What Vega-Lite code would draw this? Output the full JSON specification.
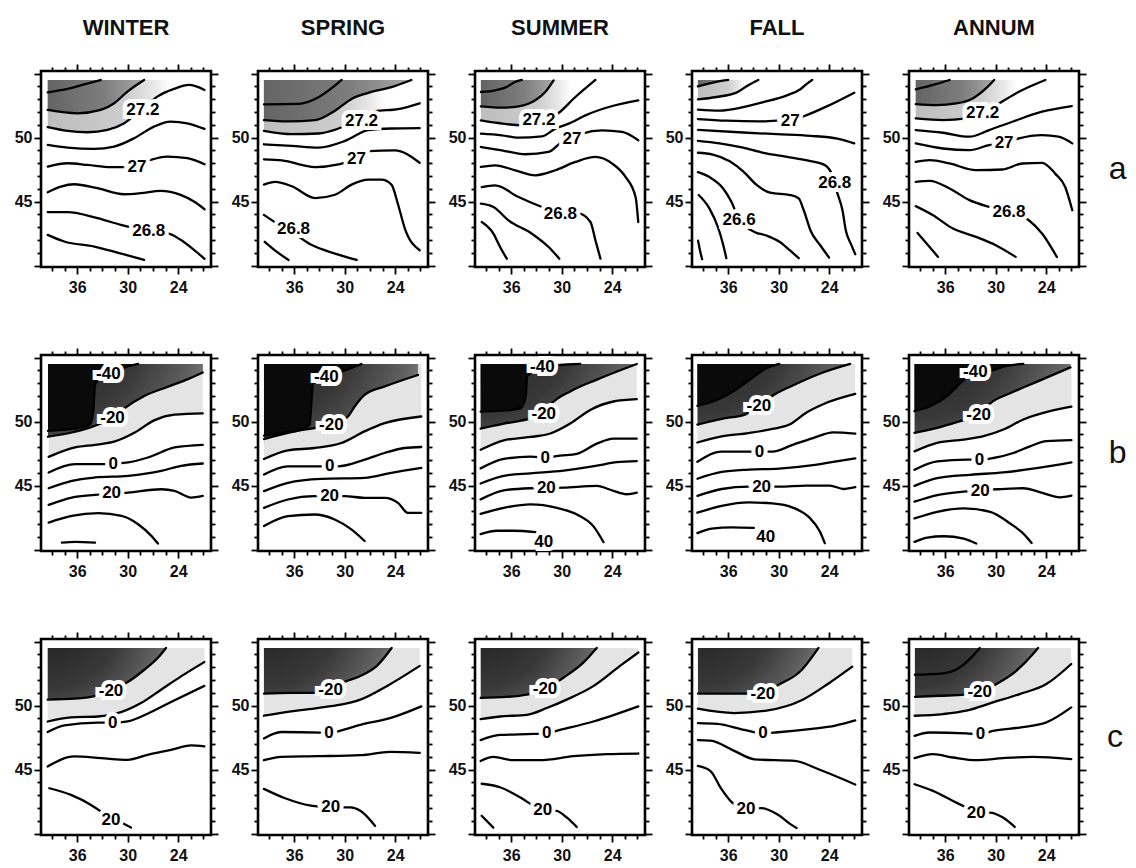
{
  "$schema": "https://vega.github.io/schema/vega-lite/v6.json",
  "background": "white",
  "padding": {"left": 12, "top": 17, "right": 6, "bottom": 4},
  "datasets": {
    "fields": [
      {"row":"a","season":"WINTER","level":27.4,"lon":39.5,"lat":53.54},{"row":"a","season":"WINTER","level":27.4,"lon":37.14,"lat":53.8},{"row":"a","season":"WINTER","level":27.4,"lon":35.17,"lat":54.16},{"row":"a","season":"WINTER","level":27.4,"lon":33.2,"lat":54.5},
      {"row":"a","season":"WINTER","level":27.3,"lon":39.5,"lat":52.16},{"row":"a","season":"WINTER","level":27.3,"lon":35.95,"lat":51.9},{"row":"a","season":"WINTER","level":27.3,"lon":33.2,"lat":52.16},{"row":"a","season":"WINTER","level":27.3,"lon":31.6,"lat":52.68},{"row":"a","season":"WINTER","level":27.3,"lon":30.03,"lat":53.59},{"row":"a","season":"WINTER","level":27.3,"lon":28.05,"lat":54.5},
      {"row":"a","season":"WINTER","level":27.2,"lon":39.5,"lat":50.81},{"row":"a","season":"WINTER","level":27.2,"lon":37.14,"lat":50.52},{"row":"a","season":"WINTER","level":27.2,"lon":34.77,"lat":50.42},{"row":"a","season":"WINTER","level":27.2,"lon":32.4,"lat":50.6},{"row":"a","season":"WINTER","level":27.2,"lon":30.42,"lat":51.12},{"row":"a","season":"WINTER","level":27.2,"lon":28.45,"lat":52.16},{"row":"a","season":"WINTER","level":27.2,"lon":26.48,"lat":53.2},{"row":"a","season":"WINTER","level":27.2,"lon":24.5,"lat":53.8},{"row":"a","season":"WINTER","level":27.2,"lon":22.72,"lat":54.11},{"row":"a","season":"WINTER","level":27.2,"lon":20.87,"lat":53.72},
      {"row":"a","season":"WINTER","level":27.1,"lon":39.5,"lat":49.43},{"row":"a","season":"WINTER","level":27.1,"lon":37.14,"lat":49.22},{"row":"a","season":"WINTER","level":27.1,"lon":33.98,"lat":49.12},{"row":"a","season":"WINTER","level":27.1,"lon":31.61,"lat":49.3},{"row":"a","season":"WINTER","level":27.1,"lon":29.24,"lat":49.95},{"row":"a","season":"WINTER","level":27.1,"lon":26.87,"lat":50.86},{"row":"a","season":"WINTER","level":27.1,"lon":24.9,"lat":51.25},{"row":"a","season":"WINTER","level":27.1,"lon":22.92,"lat":51.12},{"row":"a","season":"WINTER","level":27.1,"lon":20.87,"lat":50.68},
      {"row":"a","season":"WINTER","level":27.0,"lon":39.5,"lat":47.74},{"row":"a","season":"WINTER","level":27.0,"lon":37.14,"lat":48.0},{"row":"a","season":"WINTER","level":27.0,"lon":34.77,"lat":47.87},{"row":"a","season":"WINTER","level":27.0,"lon":32.0,"lat":47.69},{"row":"a","season":"WINTER","level":27.0,"lon":29.24,"lat":47.74},{"row":"a","season":"WINTER","level":27.0,"lon":27.27,"lat":48.26},{"row":"a","season":"WINTER","level":27.0,"lon":25.29,"lat":48.52},{"row":"a","season":"WINTER","level":27.0,"lon":22.92,"lat":48.39},{"row":"a","season":"WINTER","level":27.0,"lon":20.87,"lat":47.92},
      {"row":"a","season":"WINTER","level":26.9,"lon":39.5,"lat":45.74},{"row":"a","season":"WINTER","level":26.9,"lon":37.93,"lat":46.18},{"row":"a","season":"WINTER","level":26.9,"lon":36.35,"lat":46.36},{"row":"a","season":"WINTER","level":26.9,"lon":33.59,"lat":46.05},{"row":"a","season":"WINTER","level":26.9,"lon":30.43,"lat":45.58},{"row":"a","season":"WINTER","level":26.9,"lon":28.45,"lat":45.66},{"row":"a","season":"WINTER","level":26.9,"lon":26.08,"lat":45.84},{"row":"a","season":"WINTER","level":26.9,"lon":23.71,"lat":45.53},{"row":"a","season":"WINTER","level":26.9,"lon":22.13,"lat":45.01},{"row":"a","season":"WINTER","level":26.9,"lon":20.87,"lat":44.41},
      {"row":"a","season":"WINTER","level":26.8,"lon":39.5,"lat":44.18},{"row":"a","season":"WINTER","level":26.8,"lon":37.14,"lat":44.18},{"row":"a","season":"WINTER","level":26.8,"lon":33.59,"lat":43.71},{"row":"a","season":"WINTER","level":26.8,"lon":30.82,"lat":43.19},{"row":"a","season":"WINTER","level":26.8,"lon":27.46,"lat":42.67},{"row":"a","season":"WINTER","level":26.8,"lon":25.29,"lat":42.54},{"row":"a","season":"WINTER","level":26.8,"lon":23.71,"lat":42.02},{"row":"a","season":"WINTER","level":26.8,"lon":22.13,"lat":41.24},{"row":"a","season":"WINTER","level":26.8,"lon":20.87,"lat":40.54},
      {"row":"a","season":"WINTER","level":26.7,"lon":39.5,"lat":42.41},{"row":"a","season":"WINTER","level":26.7,"lon":37.54,"lat":41.89},{"row":"a","season":"WINTER","level":26.7,"lon":33.98,"lat":41.5},{"row":"a","season":"WINTER","level":26.7,"lon":31.22,"lat":41.03},{"row":"a","season":"WINTER","level":26.7,"lon":28.06,"lat":40.46},

      {"row":"a","season":"SPRING","level":27.4,"lon":39.6,"lat":52.6},{"row":"a","season":"SPRING","level":27.4,"lon":35.49,"lat":52.63},{"row":"a","season":"SPRING","level":27.4,"lon":33.12,"lat":53.15},{"row":"a","season":"SPRING","level":27.4,"lon":31.15,"lat":54.07},{"row":"a","season":"SPRING","level":27.4,"lon":30.36,"lat":54.5},
      {"row":"a","season":"SPRING","level":27.3,"lon":39.6,"lat":51.37},{"row":"a","season":"SPRING","level":27.3,"lon":36.67,"lat":51.26},{"row":"a","season":"SPRING","level":27.3,"lon":33.51,"lat":51.37},{"row":"a","season":"SPRING","level":27.3,"lon":31.15,"lat":52.1},{"row":"a","season":"SPRING","level":27.3,"lon":29.18,"lat":53.02},{"row":"a","season":"SPRING","level":27.3,"lon":27.2,"lat":53.49},{"row":"a","season":"SPRING","level":27.3,"lon":24.44,"lat":53.94},{"row":"a","season":"SPRING","level":27.3,"lon":22.07,"lat":54.5},
      {"row":"a","season":"SPRING","level":27.2,"lon":39.6,"lat":50.53},{"row":"a","season":"SPRING","level":27.2,"lon":36.28,"lat":50.27},{"row":"a","season":"SPRING","level":27.2,"lon":33.12,"lat":50.32},{"row":"a","season":"SPRING","level":27.2,"lon":30.36,"lat":50.79},{"row":"a","season":"SPRING","level":27.2,"lon":28.19,"lat":51.32},{"row":"a","season":"SPRING","level":27.2,"lon":26.41,"lat":52.05},{"row":"a","season":"SPRING","level":27.2,"lon":23.65,"lat":52.23},{"row":"a","season":"SPRING","level":27.2,"lon":21.09,"lat":52.68},
      {"row":"a","season":"SPRING","level":27.1,"lon":39.6,"lat":49.48},{"row":"a","season":"SPRING","level":27.1,"lon":36.28,"lat":49.35},{"row":"a","season":"SPRING","level":27.1,"lon":33.12,"lat":49.22},{"row":"a","season":"SPRING","level":27.1,"lon":29.96,"lat":49.74},{"row":"a","season":"SPRING","level":27.1,"lon":27.2,"lat":50.58},{"row":"a","season":"SPRING","level":27.1,"lon":24.44,"lat":50.71},{"row":"a","season":"SPRING","level":27.1,"lon":21.09,"lat":50.74},
      {"row":"a","season":"SPRING","level":27.0,"lon":39.6,"lat":48.3},{"row":"a","season":"SPRING","level":27.0,"lon":37.46,"lat":48.22},{"row":"a","season":"SPRING","level":27.0,"lon":33.51,"lat":47.7},{"row":"a","season":"SPRING","level":27.0,"lon":30.75,"lat":47.91},{"row":"a","season":"SPRING","level":27.0,"lon":28.78,"lat":48.3},{"row":"a","season":"SPRING","level":27.0,"lon":27.2,"lat":48.95},{"row":"a","season":"SPRING","level":27.0,"lon":24.05,"lat":49.01},{"row":"a","season":"SPRING","level":27.0,"lon":21.09,"lat":48.04},
      {"row":"a","season":"SPRING","level":26.9,"lon":39.6,"lat":46.33},{"row":"a","season":"SPRING","level":26.9,"lon":38.25,"lat":46.54},{"row":"a","season":"SPRING","level":26.9,"lon":36.28,"lat":46.2},{"row":"a","season":"SPRING","level":26.9,"lon":33.51,"lat":45.28},{"row":"a","season":"SPRING","level":26.9,"lon":31.15,"lat":45.54},{"row":"a","season":"SPRING","level":26.9,"lon":29.18,"lat":46.33},{"row":"a","season":"SPRING","level":26.9,"lon":27.2,"lat":46.72},{"row":"a","season":"SPRING","level":26.9,"lon":25.62,"lat":46.72},{"row":"a","season":"SPRING","level":26.9,"lon":24.44,"lat":46.33},{"row":"a","season":"SPRING","level":26.9,"lon":23.65,"lat":44.76},{"row":"a","season":"SPRING","level":26.9,"lon":22.86,"lat":42.92},{"row":"a","season":"SPRING","level":26.9,"lon":21.09,"lat":41.21},
      {"row":"a","season":"SPRING","level":26.8,"lon":39.6,"lat":43.97},{"row":"a","season":"SPRING","level":26.8,"lon":37.46,"lat":43.05},{"row":"a","season":"SPRING","level":26.8,"lon":36.08,"lat":42.53},{"row":"a","season":"SPRING","level":26.8,"lon":33.91,"lat":41.61},{"row":"a","season":"SPRING","level":26.8,"lon":31.15,"lat":40.95},{"row":"a","season":"SPRING","level":26.8,"lon":28.58,"lat":40.45},
      {"row":"a","season":"SPRING","level":26.7,"lon":39.5,"lat":41.87},{"row":"a","season":"SPRING","level":26.7,"lon":38.05,"lat":41.08},{"row":"a","season":"SPRING","level":26.7,"lon":36.67,"lat":40.45},

      {"row":"a","season":"SUMMER","level":27.4,"lon":39.6,"lat":53.56},{"row":"a","season":"SUMMER","level":27.4,"lon":37.91,"lat":53.69},{"row":"a","season":"SUMMER","level":27.4,"lon":36.72,"lat":53.9},{"row":"a","season":"SUMMER","level":27.4,"lon":35.53,"lat":54.34},{"row":"a","season":"SUMMER","level":27.4,"lon":34.73,"lat":54.5},
      {"row":"a","season":"SUMMER","level":27.3,"lon":39.6,"lat":52.44},{"row":"a","season":"SUMMER","level":27.3,"lon":37.12,"lat":52.34},{"row":"a","season":"SUMMER","level":27.3,"lon":35.13,"lat":52.44},{"row":"a","season":"SUMMER","level":27.3,"lon":33.14,"lat":52.91},{"row":"a","season":"SUMMER","level":27.3,"lon":31.95,"lat":53.56},{"row":"a","season":"SUMMER","level":27.3,"lon":30.96,"lat":54.47},
      {"row":"a","season":"SUMMER","level":27.2,"lon":39.6,"lat":51.35},{"row":"a","season":"SUMMER","level":27.2,"lon":37.52,"lat":51.14},{"row":"a","season":"SUMMER","level":27.2,"lon":34.73,"lat":50.96},{"row":"a","season":"SUMMER","level":27.2,"lon":32.7,"lat":51.4},{"row":"a","season":"SUMMER","level":27.2,"lon":30.76,"lat":51.74},{"row":"a","season":"SUMMER","level":27.2,"lon":28.37,"lat":53.17},{"row":"a","season":"SUMMER","level":27.2,"lon":25.99,"lat":54.5},
      {"row":"a","season":"SUMMER","level":27.1,"lon":39.6,"lat":50.31},{"row":"a","season":"SUMMER","level":27.1,"lon":37.12,"lat":50.18},{"row":"a","season":"SUMMER","level":27.1,"lon":35.13,"lat":50.0},{"row":"a","season":"SUMMER","level":27.1,"lon":32.35,"lat":50.1},{"row":"a","season":"SUMMER","level":27.1,"lon":30.76,"lat":50.7},{"row":"a","season":"SUMMER","level":27.1,"lon":29.17,"lat":51.09},{"row":"a","season":"SUMMER","level":27.1,"lon":27.18,"lat":51.74},{"row":"a","season":"SUMMER","level":27.1,"lon":24.4,"lat":52.39},{"row":"a","season":"SUMMER","level":27.1,"lon":20.9,"lat":52.91},
      {"row":"a","season":"SUMMER","level":27.0,"lon":39.6,"lat":49.27},{"row":"a","season":"SUMMER","level":27.0,"lon":37.12,"lat":49.01},{"row":"a","season":"SUMMER","level":27.0,"lon":34.34,"lat":48.7},{"row":"a","season":"SUMMER","level":27.0,"lon":31.55,"lat":48.88},{"row":"a","season":"SUMMER","level":27.0,"lon":29.96,"lat":49.66},{"row":"a","season":"SUMMER","level":27.0,"lon":28.77,"lat":49.9},{"row":"a","season":"SUMMER","level":27.0,"lon":27.58,"lat":50.31},{"row":"a","season":"SUMMER","level":27.0,"lon":25.19,"lat":50.57},{"row":"a","season":"SUMMER","level":27.0,"lon":22.81,"lat":50.44},{"row":"a","season":"SUMMER","level":27.0,"lon":20.9,"lat":49.79},
      {"row":"a","season":"SUMMER","level":26.9,"lon":39.6,"lat":47.71},{"row":"a","season":"SUMMER","level":26.9,"lon":37.91,"lat":47.84},{"row":"a","season":"SUMMER","level":26.9,"lon":35.53,"lat":47.45},{"row":"a","season":"SUMMER","level":26.9,"lon":33.14,"lat":47.06},{"row":"a","season":"SUMMER","level":26.9,"lon":30.76,"lat":47.45},{"row":"a","season":"SUMMER","level":26.9,"lon":28.37,"lat":48.1},{"row":"a","season":"SUMMER","level":26.9,"lon":25.99,"lat":48.49},{"row":"a","season":"SUMMER","level":26.9,"lon":24.0,"lat":47.97},{"row":"a","season":"SUMMER","level":26.9,"lon":22.41,"lat":46.93},{"row":"a","season":"SUMMER","level":26.9,"lon":21.22,"lat":45.37},{"row":"a","season":"SUMMER","level":26.9,"lon":20.9,"lat":43.41},
      {"row":"a","season":"SUMMER","level":26.8,"lon":39.5,"lat":46.14},{"row":"a","season":"SUMMER","level":26.8,"lon":37.91,"lat":46.27},{"row":"a","season":"SUMMER","level":26.8,"lon":35.13,"lat":45.36},{"row":"a","season":"SUMMER","level":26.8,"lon":32.35,"lat":44.58},{"row":"a","season":"SUMMER","level":26.8,"lon":30.16,"lat":44.06},{"row":"a","season":"SUMMER","level":26.8,"lon":27.97,"lat":44.06},{"row":"a","season":"SUMMER","level":26.8,"lon":26.58,"lat":43.41},{"row":"a","season":"SUMMER","level":26.8,"lon":25.99,"lat":41.98},{"row":"a","season":"SUMMER","level":26.8,"lon":25.39,"lat":40.55},
      {"row":"a","season":"SUMMER","level":26.7,"lon":39.6,"lat":44.84},{"row":"a","season":"SUMMER","level":26.7,"lon":38.11,"lat":44.58},{"row":"a","season":"SUMMER","level":26.7,"lon":36.32,"lat":43.54},{"row":"a","season":"SUMMER","level":26.7,"lon":33.54,"lat":42.5},{"row":"a","season":"SUMMER","level":26.7,"lon":31.55,"lat":41.46},{"row":"a","season":"SUMMER","level":26.7,"lon":30.28,"lat":40.55},
      {"row":"a","season":"SUMMER","level":26.6,"lon":39.5,"lat":43.41},{"row":"a","season":"SUMMER","level":26.6,"lon":38.11,"lat":42.5},{"row":"a","season":"SUMMER","level":26.6,"lon":37.32,"lat":41.46},{"row":"a","season":"SUMMER","level":26.6,"lon":36.52,"lat":40.55},

      {"row":"a","season":"FALL","level":27.3,"lon":39.6,"lat":54.0},{"row":"a","season":"FALL","level":27.3,"lon":37.4,"lat":54.35},{"row":"a","season":"FALL","level":27.3,"lon":36.0,"lat":54.5},
      {"row":"a","season":"FALL","level":27.2,"lon":39.6,"lat":52.98},{"row":"a","season":"FALL","level":27.2,"lon":37.42,"lat":53.17},{"row":"a","season":"FALL","level":27.2,"lon":35.02,"lat":53.51},{"row":"a","season":"FALL","level":27.2,"lon":33.62,"lat":54.09},{"row":"a","season":"FALL","level":27.2,"lon":32.42,"lat":54.5},
      {"row":"a","season":"FALL","level":27.1,"lon":39.6,"lat":52.19},{"row":"a","season":"FALL","level":27.1,"lon":37.02,"lat":52.11},{"row":"a","season":"FALL","level":27.1,"lon":34.22,"lat":52.38},{"row":"a","season":"FALL","level":27.1,"lon":31.82,"lat":52.77},{"row":"a","season":"FALL","level":27.1,"lon":29.02,"lat":53.3},{"row":"a","season":"FALL","level":27.1,"lon":27.42,"lat":53.78},{"row":"a","season":"FALL","level":27.1,"lon":26.62,"lat":54.22},{"row":"a","season":"FALL","level":27.1,"lon":26.02,"lat":54.5},
      {"row":"a","season":"FALL","level":27.0,"lon":39.6,"lat":51.45},{"row":"a","season":"FALL","level":27.0,"lon":36.22,"lat":51.32},{"row":"a","season":"FALL","level":27.0,"lon":32.22,"lat":51.27},{"row":"a","season":"FALL","level":27.0,"lon":30.22,"lat":51.32},{"row":"a","season":"FALL","level":27.0,"lon":28.62,"lat":51.32},{"row":"a","season":"FALL","level":27.0,"lon":27.02,"lat":51.67},{"row":"a","season":"FALL","level":27.0,"lon":24.22,"lat":52.46},{"row":"a","season":"FALL","level":27.0,"lon":21.02,"lat":53.51},
      {"row":"a","season":"FALL","level":26.9,"lon":39.6,"lat":50.61},{"row":"a","season":"FALL","level":26.9,"lon":34.22,"lat":50.4},{"row":"a","season":"FALL","level":26.9,"lon":30.22,"lat":50.27},{"row":"a","season":"FALL","level":26.9,"lon":26.22,"lat":50.14},{"row":"a","season":"FALL","level":26.9,"lon":23.02,"lat":49.92},{"row":"a","season":"FALL","level":26.9,"lon":21.02,"lat":49.55},
      {"row":"a","season":"FALL","level":26.8,"lon":39.6,"lat":49.74},{"row":"a","season":"FALL","level":26.8,"lon":37.02,"lat":49.55},{"row":"a","season":"FALL","level":26.8,"lon":34.22,"lat":49.21},{"row":"a","season":"FALL","level":26.8,"lon":31.82,"lat":48.81},{"row":"a","season":"FALL","level":26.8,"lon":29.02,"lat":48.5},{"row":"a","season":"FALL","level":26.8,"lon":26.22,"lat":48.16},{"row":"a","season":"FALL","level":26.8,"lon":24.62,"lat":47.89},{"row":"a","season":"FALL","level":26.8,"lon":23.74,"lat":47.23},{"row":"a","season":"FALL","level":26.8,"lon":23.02,"lat":45.65},{"row":"a","season":"FALL","level":26.8,"lon":22.42,"lat":44.33},{"row":"a","season":"FALL","level":26.8,"lon":22.02,"lat":42.75},{"row":"a","season":"FALL","level":26.8,"lon":21.42,"lat":41.7},{"row":"a","season":"FALL","level":26.8,"lon":20.9,"lat":40.9},
      {"row":"a","season":"FALL","level":26.7,"lon":39.6,"lat":48.82},{"row":"a","season":"FALL","level":26.7,"lon":37.82,"lat":48.68},{"row":"a","season":"FALL","level":26.7,"lon":35.82,"lat":48.16},{"row":"a","season":"FALL","level":26.7,"lon":34.22,"lat":47.37},{"row":"a","season":"FALL","level":26.7,"lon":32.62,"lat":46.31},{"row":"a","season":"FALL","level":26.7,"lon":31.02,"lat":45.7},{"row":"a","season":"FALL","level":26.7,"lon":28.62,"lat":45.52},{"row":"a","season":"FALL","level":26.7,"lon":27.62,"lat":45.26},{"row":"a","season":"FALL","level":26.7,"lon":27.02,"lat":44.33},{"row":"a","season":"FALL","level":26.7,"lon":26.22,"lat":42.75},{"row":"a","season":"FALL","level":26.7,"lon":25.02,"lat":41.56},{"row":"a","season":"FALL","level":26.7,"lon":24.02,"lat":40.64},
      {"row":"a","season":"FALL","level":26.6,"lon":39.6,"lat":47.31},{"row":"a","season":"FALL","level":26.6,"lon":38.22,"lat":46.92},{"row":"a","season":"FALL","level":26.6,"lon":36.62,"lat":46.05},{"row":"a","season":"FALL","level":26.6,"lon":35.62,"lat":44.99},{"row":"a","season":"FALL","level":26.6,"lon":34.7,"lat":43.6},{"row":"a","season":"FALL","level":26.6,"lon":32.82,"lat":42.62},{"row":"a","season":"FALL","level":26.6,"lon":31.42,"lat":42.35},{"row":"a","season":"FALL","level":26.6,"lon":29.82,"lat":41.83},{"row":"a","season":"FALL","level":26.6,"lon":28.62,"lat":41.17},{"row":"a","season":"FALL","level":26.6,"lon":27.62,"lat":40.59},
      {"row":"a","season":"FALL","level":26.5,"lon":39.5,"lat":45.52},{"row":"a","season":"FALL","level":26.5,"lon":38.22,"lat":44.46},{"row":"a","season":"FALL","level":26.5,"lon":37.22,"lat":43.01},{"row":"a","season":"FALL","level":26.5,"lon":36.62,"lat":41.7},{"row":"a","season":"FALL","level":26.5,"lon":36.22,"lat":40.59},
      {"row":"a","season":"FALL","level":26.4,"lon":39.58,"lat":41.96},{"row":"a","season":"FALL","level":26.4,"lon":39.34,"lat":41.17},{"row":"a","season":"FALL","level":26.4,"lon":39.1,"lat":40.51},

      {"row":"a","season":"ANNUM","level":27.4,"lon":39.5,"lat":53.77},{"row":"a","season":"ANNUM","level":27.4,"lon":37.43,"lat":54.11},{"row":"a","season":"ANNUM","level":27.4,"lon":35.47,"lat":54.5},
      {"row":"a","season":"ANNUM","level":27.3,"lon":39.5,"lat":52.62},{"row":"a","season":"ANNUM","level":27.3,"lon":37.04,"lat":52.54},{"row":"a","season":"ANNUM","level":27.3,"lon":34.69,"lat":52.67},{"row":"a","season":"ANNUM","level":27.3,"lon":32.73,"lat":53.06},{"row":"a","season":"ANNUM","level":27.3,"lon":31.16,"lat":53.84},{"row":"a","season":"ANNUM","level":27.3,"lon":30.18,"lat":54.5},
      {"row":"a","season":"ANNUM","level":27.2,"lon":39.5,"lat":51.5},{"row":"a","season":"ANNUM","level":27.2,"lon":36.26,"lat":51.37},{"row":"a","season":"ANNUM","level":27.2,"lon":33.51,"lat":51.5},{"row":"a","season":"ANNUM","level":27.2,"lon":31.55,"lat":51.94},{"row":"a","season":"ANNUM","level":27.2,"lon":29.59,"lat":52.67},{"row":"a","season":"ANNUM","level":27.2,"lon":27.24,"lat":53.58},{"row":"a","season":"ANNUM","level":27.2,"lon":24.1,"lat":54.5},
      {"row":"a","season":"ANNUM","level":27.1,"lon":39.5,"lat":50.59},{"row":"a","season":"ANNUM","level":27.1,"lon":36.26,"lat":50.38},{"row":"a","season":"ANNUM","level":27.1,"lon":33.12,"lat":50.07},{"row":"a","season":"ANNUM","level":27.1,"lon":30.77,"lat":50.59},{"row":"a","season":"ANNUM","level":27.1,"lon":28.02,"lat":51.24},{"row":"a","season":"ANNUM","level":27.1,"lon":24.49,"lat":52.02},{"row":"a","season":"ANNUM","level":27.1,"lon":20.96,"lat":52.46},
      {"row":"a","season":"ANNUM","level":27.0,"lon":39.5,"lat":49.55},{"row":"a","season":"ANNUM","level":27.0,"lon":36.26,"lat":49.15},{"row":"a","season":"ANNUM","level":27.0,"lon":33.12,"lat":49.02},{"row":"a","season":"ANNUM","level":27.0,"lon":30.77,"lat":49.41},{"row":"a","season":"ANNUM","level":27.0,"lon":29.0,"lat":49.55},{"row":"a","season":"ANNUM","level":27.0,"lon":27.24,"lat":49.94},{"row":"a","season":"ANNUM","level":27.0,"lon":24.49,"lat":50.2},{"row":"a","season":"ANNUM","level":27.0,"lon":22.53,"lat":50.07},{"row":"a","season":"ANNUM","level":27.0,"lon":20.9,"lat":49.55},
      {"row":"a","season":"ANNUM","level":26.9,"lon":39.5,"lat":48.11},{"row":"a","season":"ANNUM","level":26.9,"lon":37.83,"lat":48.24},{"row":"a","season":"ANNUM","level":26.9,"lon":35.48,"lat":47.98},{"row":"a","season":"ANNUM","level":26.9,"lon":32.34,"lat":47.46},{"row":"a","season":"ANNUM","level":26.9,"lon":29.2,"lat":47.51},{"row":"a","season":"ANNUM","level":26.9,"lon":26.85,"lat":47.98},{"row":"a","season":"ANNUM","level":26.9,"lon":24.49,"lat":48.03},{"row":"a","season":"ANNUM","level":26.9,"lon":22.93,"lat":47.19},{"row":"a","season":"ANNUM","level":26.9,"lon":21.75,"lat":46.16},{"row":"a","season":"ANNUM","level":26.9,"lon":20.9,"lat":44.33},
      {"row":"a","season":"ANNUM","level":26.8,"lon":39.5,"lat":46.55},{"row":"a","season":"ANNUM","level":26.8,"lon":37.83,"lat":46.63},{"row":"a","season":"ANNUM","level":26.8,"lon":35.48,"lat":46.03},{"row":"a","season":"ANNUM","level":26.8,"lon":33.12,"lat":45.12},{"row":"a","season":"ANNUM","level":26.8,"lon":30.77,"lat":44.59},{"row":"a","season":"ANNUM","level":26.8,"lon":28.42,"lat":44.2},{"row":"a","season":"ANNUM","level":26.8,"lon":26.06,"lat":43.55},{"row":"a","season":"ANNUM","level":26.8,"lon":24.49,"lat":42.51},{"row":"a","season":"ANNUM","level":26.8,"lon":22.73,"lat":40.68},
      {"row":"a","season":"ANNUM","level":26.7,"lon":39.5,"lat":44.65},{"row":"a","season":"ANNUM","level":26.7,"lon":37.44,"lat":43.94},{"row":"a","season":"ANNUM","level":26.7,"lon":35.08,"lat":42.9},{"row":"a","season":"ANNUM","level":26.7,"lon":32.34,"lat":42.25},{"row":"a","season":"ANNUM","level":26.7,"lon":29.99,"lat":41.6},{"row":"a","season":"ANNUM","level":26.7,"lon":27.63,"lat":40.69},
      {"row":"a","season":"ANNUM","level":26.6,"lon":39.28,"lat":42.56},{"row":"a","season":"ANNUM","level":26.6,"lon":38.03,"lat":41.6},{"row":"a","season":"ANNUM","level":26.6,"lon":36.85,"lat":40.69},

      {"row":"b","season":"WINTER","level":-40,"lon":39.47,"lat":49.28},{"row":"b","season":"WINTER","level":-40,"lon":37.82,"lat":49.36},{"row":"b","season":"WINTER","level":-40,"lon":35.85,"lat":49.49},{"row":"b","season":"WINTER","level":-40,"lon":34.47,"lat":49.8},{"row":"b","season":"WINTER","level":-40,"lon":34.08,"lat":50.85},{"row":"b","season":"WINTER","level":-40,"lon":33.88,"lat":52.93},{"row":"b","season":"WINTER","level":-40,"lon":32.3,"lat":53.71},{"row":"b","season":"WINTER","level":-40,"lon":30.34,"lat":54.24},{"row":"b","season":"WINTER","level":-40,"lon":28.76,"lat":54.5},
      {"row":"b","season":"WINTER","level":-20,"lon":39.47,"lat":48.82},{"row":"b","season":"WINTER","level":-20,"lon":36.64,"lat":49.15},{"row":"b","season":"WINTER","level":-20,"lon":33.88,"lat":49.68},{"row":"b","season":"WINTER","level":-20,"lon":31.8,"lat":50.3},{"row":"b","season":"WINTER","level":-20,"lon":30.53,"lat":50.98},{"row":"b","season":"WINTER","level":-20,"lon":27.97,"lat":52.02},{"row":"b","season":"WINTER","level":-20,"lon":25.22,"lat":52.72},{"row":"b","season":"WINTER","level":-20,"lon":22.85,"lat":53.32},{"row":"b","season":"WINTER","level":-20,"lon":21.08,"lat":53.84},
      {"row":"b","season":"WINTER","level":-10,"lon":39.39,"lat":47.25},{"row":"b","season":"WINTER","level":-10,"lon":36.24,"lat":47.98},{"row":"b","season":"WINTER","level":-10,"lon":33.88,"lat":48.19},{"row":"b","season":"WINTER","level":-10,"lon":31.52,"lat":48.45},{"row":"b","season":"WINTER","level":-10,"lon":29.16,"lat":49.15},{"row":"b","season":"WINTER","level":-10,"lon":26.79,"lat":50.12},{"row":"b","season":"WINTER","level":-10,"lon":24.43,"lat":50.54},{"row":"b","season":"WINTER","level":-10,"lon":21.08,"lat":50.64},
      {"row":"b","season":"WINTER","level":0,"lon":39.39,"lat":46.03},{"row":"b","season":"WINTER","level":0,"lon":36.24,"lat":46.68},{"row":"b","season":"WINTER","level":0,"lon":32.7,"lat":46.68},{"row":"b","season":"WINTER","level":0,"lon":29.94,"lat":46.81},{"row":"b","season":"WINTER","level":0,"lon":27.58,"lat":47.2},{"row":"b","season":"WINTER","level":0,"lon":24.43,"lat":47.98},{"row":"b","season":"WINTER","level":0,"lon":21.08,"lat":48.19},
      {"row":"b","season":"WINTER","level":10,"lon":39.39,"lat":44.8},{"row":"b","season":"WINTER","level":10,"lon":36.64,"lat":45.38},{"row":"b","season":"WINTER","level":10,"lon":33.88,"lat":45.64},{"row":"b","season":"WINTER","level":10,"lon":29.94,"lat":45.77},{"row":"b","season":"WINTER","level":10,"lon":26.0,"lat":46.16},{"row":"b","season":"WINTER","level":10,"lon":23.64,"lat":46.55},{"row":"b","season":"WINTER","level":10,"lon":21.08,"lat":46.73},
      {"row":"b","season":"WINTER","level":20,"lon":39.39,"lat":43.5},{"row":"b","season":"WINTER","level":20,"lon":36.64,"lat":44.07},{"row":"b","season":"WINTER","level":20,"lon":33.88,"lat":44.28},{"row":"b","season":"WINTER","level":20,"lon":29.94,"lat":44.46},{"row":"b","season":"WINTER","level":20,"lon":26.0,"lat":44.72},{"row":"b","season":"WINTER","level":20,"lon":24.43,"lat":44.59},{"row":"b","season":"WINTER","level":20,"lon":22.46,"lat":44.07},{"row":"b","season":"WINTER","level":20,"lon":21.08,"lat":44.2},
      {"row":"b","season":"WINTER","level":30,"lon":39.39,"lat":42.12},{"row":"b","season":"WINTER","level":30,"lon":36.64,"lat":42.64},{"row":"b","season":"WINTER","level":30,"lon":33.49,"lat":42.85},{"row":"b","season":"WINTER","level":30,"lon":30.73,"lat":42.64},{"row":"b","season":"WINTER","level":30,"lon":28.76,"lat":41.99},{"row":"b","season":"WINTER","level":30,"lon":27.19,"lat":41.08},{"row":"b","season":"WINTER","level":30,"lon":26.4,"lat":40.48},
      {"row":"b","season":"WINTER","level":40,"lon":37.82,"lat":40.55},{"row":"b","season":"WINTER","level":40,"lon":36.24,"lat":40.61},{"row":"b","season":"WINTER","level":40,"lon":33.88,"lat":40.55},

      {"row":"b","season":"SPRING","level":-40,"lon":39.59,"lat":48.9},{"row":"b","season":"SPRING","level":-40,"lon":37.53,"lat":49.11},{"row":"b","season":"SPRING","level":-40,"lon":35.15,"lat":49.37},{"row":"b","season":"SPRING","level":-40,"lon":34.16,"lat":49.75},{"row":"b","season":"SPRING","level":-40,"lon":33.96,"lat":51.44},{"row":"b","season":"SPRING","level":-40,"lon":33.77,"lat":52.99},{"row":"b","season":"SPRING","level":-40,"lon":32.18,"lat":53.51},{"row":"b","season":"SPRING","level":-40,"lon":30.4,"lat":53.9},{"row":"b","season":"SPRING","level":-40,"lon":28.82,"lat":54.29},{"row":"b","season":"SPRING","level":-40,"lon":28.0,"lat":54.5},
      {"row":"b","season":"SPRING","level":-20,"lon":39.59,"lat":48.64},{"row":"b","season":"SPRING","level":-20,"lon":35.94,"lat":49.24},{"row":"b","season":"SPRING","level":-20,"lon":33.57,"lat":49.5},{"row":"b","season":"SPRING","level":-20,"lon":31.59,"lat":49.75},{"row":"b","season":"SPRING","level":-20,"lon":29.61,"lat":50.4},{"row":"b","season":"SPRING","level":-20,"lon":28.82,"lat":51.18},{"row":"b","season":"SPRING","level":-20,"lon":27.63,"lat":52.09},{"row":"b","season":"SPRING","level":-20,"lon":25.25,"lat":52.74},{"row":"b","season":"SPRING","level":-20,"lon":21.29,"lat":53.64},
      {"row":"b","season":"SPRING","level":-10,"lon":39.59,"lat":47.08},{"row":"b","season":"SPRING","level":-10,"lon":36.74,"lat":47.76},{"row":"b","season":"SPRING","level":-10,"lon":33.57,"lat":47.94},{"row":"b","season":"SPRING","level":-10,"lon":30.4,"lat":48.33},{"row":"b","season":"SPRING","level":-10,"lon":27.63,"lat":49.24},{"row":"b","season":"SPRING","level":-10,"lon":25.25,"lat":49.88},{"row":"b","season":"SPRING","level":-10,"lon":20.9,"lat":50.4},
      {"row":"b","season":"SPRING","level":0,"lon":39.59,"lat":45.87},{"row":"b","season":"SPRING","level":0,"lon":36.74,"lat":46.51},{"row":"b","season":"SPRING","level":0,"lon":32.78,"lat":46.51},{"row":"b","season":"SPRING","level":0,"lon":30.8,"lat":46.51},{"row":"b","season":"SPRING","level":0,"lon":27.63,"lat":47.03},{"row":"b","season":"SPRING","level":0,"lon":25.25,"lat":47.55},{"row":"b","season":"SPRING","level":0,"lon":22.88,"lat":47.94},{"row":"b","season":"SPRING","level":0,"lon":20.9,"lat":48.02},
      {"row":"b","season":"SPRING","level":10,"lon":39.59,"lat":44.57},{"row":"b","season":"SPRING","level":10,"lon":36.74,"lat":45.22},{"row":"b","season":"SPRING","level":10,"lon":32.78,"lat":45.53},{"row":"b","season":"SPRING","level":10,"lon":27.63,"lat":45.61},{"row":"b","season":"SPRING","level":10,"lon":24.46,"lat":46.0},{"row":"b","season":"SPRING","level":10,"lon":20.9,"lat":46.38},
      {"row":"b","season":"SPRING","level":20,"lon":39.59,"lat":43.27},{"row":"b","season":"SPRING","level":20,"lon":36.74,"lat":43.92},{"row":"b","season":"SPRING","level":20,"lon":33.57,"lat":44.18},{"row":"b","season":"SPRING","level":20,"lon":30.0,"lat":44.18},{"row":"b","season":"SPRING","level":20,"lon":27.63,"lat":44.05},{"row":"b","season":"SPRING","level":20,"lon":25.25,"lat":44.05},{"row":"b","season":"SPRING","level":20,"lon":23.67,"lat":43.66},{"row":"b","season":"SPRING","level":20,"lon":22.48,"lat":42.88},{"row":"b","season":"SPRING","level":20,"lon":20.9,"lat":42.88},
      {"row":"b","season":"SPRING","level":30,"lon":39.59,"lat":41.85},{"row":"b","season":"SPRING","level":30,"lon":36.74,"lat":42.62},{"row":"b","season":"SPRING","level":30,"lon":33.57,"lat":42.75},{"row":"b","season":"SPRING","level":30,"lon":31.19,"lat":42.36},{"row":"b","season":"SPRING","level":30,"lon":29.21,"lat":41.59},{"row":"b","season":"SPRING","level":30,"lon":27.63,"lat":40.68},

      {"row":"b","season":"SUMMER","level":-40,"lon":39.63,"lat":50.78},{"row":"b","season":"SUMMER","level":-40,"lon":36.87,"lat":50.86},{"row":"b","season":"SUMMER","level":-40,"lon":34.9,"lat":51.04},{"row":"b","season":"SUMMER","level":-40,"lon":34.27,"lat":51.96},{"row":"b","season":"SUMMER","level":-40,"lon":34.11,"lat":53.54},{"row":"b","season":"SUMMER","level":-40,"lon":32.3,"lat":54.25},{"row":"b","season":"SUMMER","level":-40,"lon":29.77,"lat":54.44},{"row":"b","season":"SUMMER","level":-40,"lon":27.79,"lat":54.5},
      {"row":"b","season":"SUMMER","level":-20,"lon":39.63,"lat":49.46},{"row":"b","season":"SUMMER","level":-20,"lon":36.87,"lat":49.85},{"row":"b","season":"SUMMER","level":-20,"lon":34.11,"lat":50.17},{"row":"b","season":"SUMMER","level":-20,"lon":32.13,"lat":50.59},{"row":"b","season":"SUMMER","level":-20,"lon":31.15,"lat":51.43},{"row":"b","season":"SUMMER","level":-20,"lon":28.98,"lat":52.36},{"row":"b","season":"SUMMER","level":-20,"lon":25.82,"lat":53.28},{"row":"b","season":"SUMMER","level":-20,"lon":21.08,"lat":54.5},
      {"row":"b","season":"SUMMER","level":-10,"lon":39.63,"lat":47.8},{"row":"b","season":"SUMMER","level":-10,"lon":36.87,"lat":48.54},{"row":"b","season":"SUMMER","level":-10,"lon":33.71,"lat":48.8},{"row":"b","season":"SUMMER","level":-10,"lon":31.35,"lat":49.07},{"row":"b","season":"SUMMER","level":-10,"lon":28.98,"lat":49.85},{"row":"b","season":"SUMMER","level":-10,"lon":26.61,"lat":50.91},{"row":"b","season":"SUMMER","level":-10,"lon":23.85,"lat":51.57},{"row":"b","season":"SUMMER","level":-10,"lon":21.08,"lat":51.75},
      {"row":"b","season":"SUMMER","level":0,"lon":39.63,"lat":46.35},{"row":"b","season":"SUMMER","level":0,"lon":36.87,"lat":47.09},{"row":"b","season":"SUMMER","level":0,"lon":33.71,"lat":47.27},{"row":"b","season":"SUMMER","level":0,"lon":31.94,"lat":47.2},{"row":"b","season":"SUMMER","level":0,"lon":30.16,"lat":47.35},{"row":"b","season":"SUMMER","level":0,"lon":28.19,"lat":47.49},{"row":"b","season":"SUMMER","level":0,"lon":25.82,"lat":48.28},{"row":"b","season":"SUMMER","level":0,"lon":23.85,"lat":48.67},{"row":"b","season":"SUMMER","level":0,"lon":21.08,"lat":48.67},
      {"row":"b","season":"SUMMER","level":10,"lon":39.63,"lat":45.17},{"row":"b","season":"SUMMER","level":10,"lon":36.87,"lat":45.77},{"row":"b","season":"SUMMER","level":10,"lon":33.71,"lat":45.96},{"row":"b","season":"SUMMER","level":10,"lon":29.77,"lat":46.17},{"row":"b","season":"SUMMER","level":10,"lon":25.82,"lat":46.56},{"row":"b","season":"SUMMER","level":10,"lon":23.46,"lat":46.83},{"row":"b","season":"SUMMER","level":10,"lon":21.08,"lat":46.91},
      {"row":"b","season":"SUMMER","level":20,"lon":39.63,"lat":43.93},{"row":"b","season":"SUMMER","level":20,"lon":36.87,"lat":44.64},{"row":"b","season":"SUMMER","level":20,"lon":33.71,"lat":44.8},{"row":"b","season":"SUMMER","level":20,"lon":29.77,"lat":44.85},{"row":"b","season":"SUMMER","level":20,"lon":25.82,"lat":44.98},{"row":"b","season":"SUMMER","level":20,"lon":23.85,"lat":44.59},{"row":"b","season":"SUMMER","level":20,"lon":22.27,"lat":44.33},{"row":"b","season":"SUMMER","level":20,"lon":21.08,"lat":44.46},
      {"row":"b","season":"SUMMER","level":30,"lon":39.63,"lat":42.8},{"row":"b","season":"SUMMER","level":30,"lon":36.87,"lat":43.27},{"row":"b","season":"SUMMER","level":30,"lon":33.71,"lat":43.54},{"row":"b","season":"SUMMER","level":30,"lon":30.56,"lat":43.27},{"row":"b","season":"SUMMER","level":30,"lon":28.19,"lat":42.75},{"row":"b","season":"SUMMER","level":30,"lon":26.22,"lat":41.82},{"row":"b","season":"SUMMER","level":30,"lon":25.03,"lat":40.59},
      {"row":"b","season":"SUMMER","level":40,"lon":39.63,"lat":41.22},{"row":"b","season":"SUMMER","level":40,"lon":37.66,"lat":41.48},{"row":"b","season":"SUMMER","level":40,"lon":35.69,"lat":41.48},{"row":"b","season":"SUMMER","level":40,"lon":33.12,"lat":41.38},

      {"row":"b","season":"FALL","level":-40,"lon":39.66,"lat":51.23},{"row":"b","season":"FALL","level":-40,"lon":37.57,"lat":51.63},{"row":"b","season":"FALL","level":-40,"lon":35.56,"lat":52.29},{"row":"b","season":"FALL","level":-40,"lon":33.55,"lat":53.21},{"row":"b","season":"FALL","level":-40,"lon":31.54,"lat":54.14},{"row":"b","season":"FALL","level":-40,"lon":29.94,"lat":54.5},
      {"row":"b","season":"FALL","level":-20,"lon":39.66,"lat":49.77},{"row":"b","season":"FALL","level":-20,"lon":36.77,"lat":50.22},{"row":"b","season":"FALL","level":-20,"lon":33.95,"lat":50.57},{"row":"b","season":"FALL","level":-20,"lon":32.35,"lat":51.23},{"row":"b","season":"FALL","level":-20,"lon":30.74,"lat":52.02},{"row":"b","season":"FALL","level":-20,"lon":28.33,"lat":52.82},{"row":"b","season":"FALL","level":-20,"lon":25.12,"lat":53.74},{"row":"b","season":"FALL","level":-20,"lon":21.5,"lat":54.5},
      {"row":"b","season":"FALL","level":-10,"lon":39.66,"lat":48.37},{"row":"b","season":"FALL","level":-10,"lon":36.77,"lat":48.85},{"row":"b","season":"FALL","level":-10,"lon":33.55,"lat":49.11},{"row":"b","season":"FALL","level":-10,"lon":30.74,"lat":49.43},{"row":"b","season":"FALL","level":-10,"lon":28.73,"lat":49.77},{"row":"b","season":"FALL","level":-10,"lon":26.73,"lat":50.7},{"row":"b","season":"FALL","level":-10,"lon":24.72,"lat":51.36},{"row":"b","season":"FALL","level":-10,"lon":20.9,"lat":52.16},
      {"row":"b","season":"FALL","level":0,"lon":39.66,"lat":46.86},{"row":"b","season":"FALL","level":0,"lon":36.77,"lat":47.66},{"row":"b","season":"FALL","level":0,"lon":33.55,"lat":47.66},{"row":"b","season":"FALL","level":0,"lon":30.74,"lat":47.66},{"row":"b","season":"FALL","level":0,"lon":28.33,"lat":48.19},{"row":"b","season":"FALL","level":0,"lon":25.92,"lat":48.71},{"row":"b","season":"FALL","level":0,"lon":23.51,"lat":49.16},{"row":"b","season":"FALL","level":0,"lon":20.9,"lat":49.06},
      {"row":"b","season":"FALL","level":10,"lon":39.66,"lat":45.54},{"row":"b","season":"FALL","level":10,"lon":36.77,"lat":46.07},{"row":"b","season":"FALL","level":10,"lon":33.55,"lat":46.25},{"row":"b","season":"FALL","level":10,"lon":29.94,"lat":46.33},{"row":"b","season":"FALL","level":10,"lon":25.92,"lat":46.6},{"row":"b","season":"FALL","level":10,"lon":23.51,"lat":46.86},{"row":"b","season":"FALL","level":10,"lon":20.9,"lat":47.13},
      {"row":"b","season":"FALL","level":20,"lon":39.66,"lat":44.21},{"row":"b","season":"FALL","level":20,"lon":36.77,"lat":44.74},{"row":"b","season":"FALL","level":20,"lon":33.55,"lat":44.93},{"row":"b","season":"FALL","level":20,"lon":29.94,"lat":44.93},{"row":"b","season":"FALL","level":20,"lon":26.73,"lat":45.01},{"row":"b","season":"FALL","level":20,"lon":23.91,"lat":45.01},{"row":"b","season":"FALL","level":20,"lon":22.31,"lat":44.74},{"row":"b","season":"FALL","level":20,"lon":20.9,"lat":44.88},
      {"row":"b","season":"FALL","level":30,"lon":39.66,"lat":42.89},{"row":"b","season":"FALL","level":30,"lon":36.77,"lat":43.42},{"row":"b","season":"FALL","level":30,"lon":33.55,"lat":43.69},{"row":"b","season":"FALL","level":30,"lon":30.74,"lat":43.61},{"row":"b","season":"FALL","level":30,"lon":28.33,"lat":43.29},{"row":"b","season":"FALL","level":30,"lon":26.33,"lat":42.49},{"row":"b","season":"FALL","level":30,"lon":25.12,"lat":41.44},{"row":"b","season":"FALL","level":30,"lon":24.52,"lat":40.51},
      {"row":"b","season":"FALL","level":40,"lon":39.66,"lat":41.3},{"row":"b","season":"FALL","level":40,"lon":37.97,"lat":41.65},{"row":"b","season":"FALL","level":40,"lon":35.56,"lat":41.75},{"row":"b","season":"FALL","level":40,"lon":32.95,"lat":41.7},

      {"row":"b","season":"ANNUM","level":-40,"lon":39.65,"lat":50.82},{"row":"b","season":"ANNUM","level":-40,"lon":37.74,"lat":51.22},{"row":"b","season":"ANNUM","level":-40,"lon":35.77,"lat":52.0},{"row":"b","season":"ANNUM","level":-40,"lon":34.2,"lat":53.0},{"row":"b","season":"ANNUM","level":-40,"lon":32.42,"lat":53.89},{"row":"b","season":"ANNUM","level":-40,"lon":30.65,"lat":53.97},{"row":"b","season":"ANNUM","level":-40,"lon":28.68,"lat":54.36},{"row":"b","season":"ANNUM","level":-40,"lon":26.71,"lat":54.5},
      {"row":"b","season":"ANNUM","level":-20,"lon":39.65,"lat":49.12},{"row":"b","season":"ANNUM","level":-20,"lon":36.95,"lat":49.51},{"row":"b","season":"ANNUM","level":-20,"lon":33.8,"lat":50.12},{"row":"b","season":"ANNUM","level":-20,"lon":32.03,"lat":50.48},{"row":"b","season":"ANNUM","level":-20,"lon":30.65,"lat":51.43},{"row":"b","season":"ANNUM","level":-20,"lon":28.29,"lat":52.21},{"row":"b","season":"ANNUM","level":-20,"lon":25.14,"lat":53.1},{"row":"b","season":"ANNUM","level":-20,"lon":21.12,"lat":54.23},
      {"row":"b","season":"ANNUM","level":-10,"lon":39.65,"lat":47.68},{"row":"b","season":"ANNUM","level":-10,"lon":36.95,"lat":48.34},{"row":"b","season":"ANNUM","level":-10,"lon":33.8,"lat":48.6},{"row":"b","season":"ANNUM","level":-10,"lon":31.44,"lat":48.86},{"row":"b","season":"ANNUM","level":-10,"lon":29.08,"lat":49.38},{"row":"b","season":"ANNUM","level":-10,"lon":26.71,"lat":50.17},{"row":"b","season":"ANNUM","level":-10,"lon":23.56,"lat":50.82},{"row":"b","season":"ANNUM","level":-10,"lon":21.0,"lat":51.17},
      {"row":"b","season":"ANNUM","level":0,"lon":39.65,"lat":46.24},{"row":"b","season":"ANNUM","level":0,"lon":36.95,"lat":46.89},{"row":"b","season":"ANNUM","level":0,"lon":33.41,"lat":47.03},{"row":"b","season":"ANNUM","level":0,"lon":31.91,"lat":47.03},{"row":"b","season":"ANNUM","level":0,"lon":30.26,"lat":47.16},{"row":"b","season":"ANNUM","level":0,"lon":27.9,"lat":47.55},{"row":"b","season":"ANNUM","level":0,"lon":25.93,"lat":48.07},{"row":"b","season":"ANNUM","level":0,"lon":23.96,"lat":48.47},{"row":"b","season":"ANNUM","level":0,"lon":21.0,"lat":48.55},
      {"row":"b","season":"ANNUM","level":10,"lon":39.65,"lat":44.98},{"row":"b","season":"ANNUM","level":10,"lon":36.95,"lat":45.58},{"row":"b","season":"ANNUM","level":10,"lon":33.01,"lat":45.85},{"row":"b","season":"ANNUM","level":10,"lon":29.08,"lat":46.03},{"row":"b","season":"ANNUM","level":10,"lon":25.14,"lat":46.37},{"row":"b","season":"ANNUM","level":10,"lon":21.0,"lat":46.82},
      {"row":"b","season":"ANNUM","level":20,"lon":39.65,"lat":43.75},{"row":"b","season":"ANNUM","level":20,"lon":36.95,"lat":44.27},{"row":"b","season":"ANNUM","level":20,"lon":33.8,"lat":44.54},{"row":"b","season":"ANNUM","level":20,"lon":29.86,"lat":44.72},{"row":"b","season":"ANNUM","level":20,"lon":26.71,"lat":44.8},{"row":"b","season":"ANNUM","level":20,"lon":24.35,"lat":44.41},{"row":"b","season":"ANNUM","level":20,"lon":22.38,"lat":44.09},{"row":"b","season":"ANNUM","level":20,"lon":21.0,"lat":44.22},
      {"row":"b","season":"ANNUM","level":30,"lon":39.65,"lat":42.44},{"row":"b","season":"ANNUM","level":30,"lon":36.95,"lat":42.96},{"row":"b","season":"ANNUM","level":30,"lon":33.8,"lat":43.23},{"row":"b","season":"ANNUM","level":30,"lon":30.65,"lat":42.96},{"row":"b","season":"ANNUM","level":30,"lon":28.29,"lat":42.05},{"row":"b","season":"ANNUM","level":30,"lon":26.71,"lat":41.26},{"row":"b","season":"ANNUM","level":30,"lon":25.73,"lat":40.53},
      {"row":"b","season":"ANNUM","level":40,"lon":39.65,"lat":40.61},{"row":"b","season":"ANNUM","level":40,"lon":38.14,"lat":40.95},{"row":"b","season":"ANNUM","level":40,"lon":36.17,"lat":41.05},{"row":"b","season":"ANNUM","level":40,"lon":33.8,"lat":40.87},{"row":"b","season":"ANNUM","level":40,"lon":32.31,"lat":40.48},

      {"row":"c","season":"WINTER","level":-20,"lon":39.51,"lat":50.46},{"row":"c","season":"WINTER","level":-20,"lon":36.34,"lat":50.54},{"row":"c","season":"WINTER","level":-20,"lon":33.57,"lat":50.8},{"row":"c","season":"WINTER","level":-20,"lon":31.98,"lat":51.16},{"row":"c","season":"WINTER","level":-20,"lon":30.0,"lat":51.84},{"row":"c","season":"WINTER","level":-20,"lon":28.02,"lat":52.8},{"row":"c","season":"WINTER","level":-20,"lon":26.44,"lat":53.71},{"row":"c","season":"WINTER","level":-20,"lon":25.45,"lat":54.5},
      {"row":"c","season":"WINTER","level":-10,"lon":39.51,"lat":48.76},{"row":"c","season":"WINTER","level":-10,"lon":36.74,"lat":49.08},{"row":"c","season":"WINTER","level":-10,"lon":33.57,"lat":49.15},{"row":"c","season":"WINTER","level":-10,"lon":30.79,"lat":49.49},{"row":"c","season":"WINTER","level":-10,"lon":28.42,"lat":50.2},{"row":"c","season":"WINTER","level":-10,"lon":26.04,"lat":51.24},{"row":"c","season":"WINTER","level":-10,"lon":23.66,"lat":52.28},{"row":"c","season":"WINTER","level":-10,"lon":20.89,"lat":53.4},
      {"row":"c","season":"WINTER","level":0,"lon":39.51,"lat":47.94},{"row":"c","season":"WINTER","level":0,"lon":37.53,"lat":48.46},{"row":"c","season":"WINTER","level":0,"lon":33.57,"lat":48.67},{"row":"c","season":"WINTER","level":0,"lon":31.78,"lat":48.67},{"row":"c","season":"WINTER","level":0,"lon":30.0,"lat":48.77},{"row":"c","season":"WINTER","level":0,"lon":27.63,"lat":49.37},{"row":"c","season":"WINTER","level":0,"lon":24.85,"lat":50.28},{"row":"c","season":"WINTER","level":0,"lon":20.89,"lat":51.54},
      {"row":"c","season":"WINTER","level":10,"lon":39.51,"lat":45.25},{"row":"c","season":"WINTER","level":10,"lon":36.34,"lat":46.03},{"row":"c","season":"WINTER","level":10,"lon":33.17,"lat":45.9},{"row":"c","season":"WINTER","level":10,"lon":30.0,"lat":45.77},{"row":"c","season":"WINTER","level":10,"lon":27.63,"lat":46.16},{"row":"c","season":"WINTER","level":10,"lon":24.85,"lat":46.55},{"row":"c","season":"WINTER","level":10,"lon":22.48,"lat":46.89},{"row":"c","season":"WINTER","level":10,"lon":20.89,"lat":46.81},
      {"row":"c","season":"WINTER","level":20,"lon":39.31,"lat":43.55},{"row":"c","season":"WINTER","level":20,"lon":36.74,"lat":43.03},{"row":"c","season":"WINTER","level":20,"lon":34.36,"lat":42.25},{"row":"c","season":"WINTER","level":20,"lon":33.17,"lat":41.73},{"row":"c","season":"WINTER","level":20,"lon":31.98,"lat":41.1},{"row":"c","season":"WINTER","level":20,"lon":30.6,"lat":40.82},{"row":"c","season":"WINTER","level":20,"lon":29.61,"lat":40.48},

      {"row":"c","season":"SPRING","level":-20,"lon":39.6,"lat":50.94},{"row":"c","season":"SPRING","level":-20,"lon":36.38,"lat":50.99},{"row":"c","season":"SPRING","level":-20,"lon":33.83,"lat":50.99},{"row":"c","season":"SPRING","level":-20,"lon":31.67,"lat":51.2},{"row":"c","season":"SPRING","level":-20,"lon":30.1,"lat":51.83},{"row":"c","season":"SPRING","level":-20,"lon":28.14,"lat":52.31},{"row":"c","season":"SPRING","level":-20,"lon":26.18,"lat":53.1},{"row":"c","season":"SPRING","level":-20,"lon":24.42,"lat":54.5},
      {"row":"c","season":"SPRING","level":-10,"lon":39.6,"lat":49.21},{"row":"c","season":"SPRING","level":-10,"lon":36.38,"lat":49.55},{"row":"c","season":"SPRING","level":-10,"lon":33.24,"lat":49.81},{"row":"c","season":"SPRING","level":-10,"lon":30.5,"lat":50.07},{"row":"c","season":"SPRING","level":-10,"lon":28.14,"lat":50.47},{"row":"c","season":"SPRING","level":-10,"lon":25.0,"lat":51.52},{"row":"c","season":"SPRING","level":-10,"lon":21.08,"lat":53.1},
      {"row":"c","season":"SPRING","level":0,"lon":39.6,"lat":47.44},{"row":"c","season":"SPRING","level":0,"lon":37.55,"lat":47.94},{"row":"c","season":"SPRING","level":0,"lon":32.85,"lat":47.89},{"row":"c","season":"SPRING","level":0,"lon":31.87,"lat":47.84},{"row":"c","season":"SPRING","level":0,"lon":30.5,"lat":48.05},{"row":"c","season":"SPRING","level":0,"lon":28.14,"lat":48.5},{"row":"c","season":"SPRING","level":0,"lon":24.61,"lat":49.02},{"row":"c","season":"SPRING","level":0,"lon":20.89,"lat":49.94},
      {"row":"c","season":"SPRING","level":10,"lon":39.6,"lat":45.74},{"row":"c","season":"SPRING","level":10,"lon":37.55,"lat":46.0},{"row":"c","season":"SPRING","level":10,"lon":33.24,"lat":46.05},{"row":"c","season":"SPRING","level":10,"lon":28.14,"lat":46.13},{"row":"c","season":"SPRING","level":10,"lon":24.61,"lat":46.39},{"row":"c","season":"SPRING","level":10,"lon":21.08,"lat":46.31},
      {"row":"c","season":"SPRING","level":20,"lon":39.6,"lat":43.5},{"row":"c","season":"SPRING","level":20,"lon":37.16,"lat":42.79},{"row":"c","season":"SPRING","level":20,"lon":34.02,"lat":42.19},{"row":"c","season":"SPRING","level":20,"lon":31.67,"lat":42.05},{"row":"c","season":"SPRING","level":20,"lon":29.32,"lat":42.05},{"row":"c","season":"SPRING","level":20,"lon":28.14,"lat":41.79},{"row":"c","season":"SPRING","level":20,"lon":26.38,"lat":40.61},

      {"row":"c","season":"SUMMER","level":-20,"lon":39.63,"lat":50.6},{"row":"c","season":"SUMMER","level":-20,"lon":36.54,"lat":50.68},{"row":"c","season":"SUMMER","level":-20,"lon":34.16,"lat":50.86},{"row":"c","season":"SUMMER","level":-20,"lon":31.98,"lat":51.26},{"row":"c","season":"SUMMER","level":-20,"lon":29.8,"lat":52.18},{"row":"c","season":"SUMMER","level":-20,"lon":27.43,"lat":53.36},{"row":"c","season":"SUMMER","level":-20,"lon":25.84,"lat":54.5},
      {"row":"c","season":"SUMMER","level":-10,"lon":39.63,"lat":48.94},{"row":"c","season":"SUMMER","level":-10,"lon":37.33,"lat":49.15},{"row":"c","season":"SUMMER","level":-10,"lon":34.16,"lat":49.28},{"row":"c","season":"SUMMER","level":-10,"lon":31.78,"lat":49.81},{"row":"c","season":"SUMMER","level":-10,"lon":29.41,"lat":50.47},{"row":"c","season":"SUMMER","level":-10,"lon":26.24,"lat":51.52},{"row":"c","season":"SUMMER","level":-10,"lon":23.07,"lat":53.1},{"row":"c","season":"SUMMER","level":-10,"lon":20.89,"lat":54.15},
      {"row":"c","season":"SUMMER","level":0,"lon":39.63,"lat":47.31},{"row":"c","season":"SUMMER","level":0,"lon":37.33,"lat":47.71},{"row":"c","season":"SUMMER","level":0,"lon":33.37,"lat":47.79},{"row":"c","season":"SUMMER","level":0,"lon":31.78,"lat":47.84},{"row":"c","season":"SUMMER","level":0,"lon":30.2,"lat":48.1},{"row":"c","season":"SUMMER","level":0,"lon":26.24,"lat":48.76},{"row":"c","season":"SUMMER","level":0,"lon":20.89,"lat":49.94},
      {"row":"c","season":"SUMMER","level":10,"lon":39.63,"lat":45.68},{"row":"c","season":"SUMMER","level":10,"lon":38.12,"lat":46.0},{"row":"c","season":"SUMMER","level":10,"lon":35.74,"lat":45.74},{"row":"c","season":"SUMMER","level":10,"lon":32.58,"lat":45.74},{"row":"c","season":"SUMMER","level":10,"lon":28.62,"lat":46.05},{"row":"c","season":"SUMMER","level":10,"lon":24.65,"lat":46.21},{"row":"c","season":"SUMMER","level":10,"lon":20.89,"lat":46.26},
      {"row":"c","season":"SUMMER","level":20,"lon":39.51,"lat":43.9},{"row":"c","season":"SUMMER","level":20,"lon":37.33,"lat":43.63},{"row":"c","season":"SUMMER","level":20,"lon":34.95,"lat":42.84},{"row":"c","season":"SUMMER","level":20,"lon":33.37,"lat":42.19},{"row":"c","season":"SUMMER","level":20,"lon":32.26,"lat":41.84},{"row":"c","season":"SUMMER","level":20,"lon":30.6,"lat":41.79},{"row":"c","season":"SUMMER","level":20,"lon":29.41,"lat":41.27},{"row":"c","season":"SUMMER","level":20,"lon":28.22,"lat":40.53},
      {"row":"c","season":"SUMMER","level":30,"lon":39.51,"lat":41.4},{"row":"c","season":"SUMMER","level":30,"lon":38.12,"lat":40.48},

      {"row":"c","season":"FALL","level":-20,"lon":39.6,"lat":50.94},{"row":"c","season":"FALL","level":-20,"lon":36.89,"lat":50.94},{"row":"c","season":"FALL","level":-20,"lon":33.69,"lat":50.94},{"row":"c","season":"FALL","level":-20,"lon":31.88,"lat":50.94},{"row":"c","season":"FALL","level":-20,"lon":30.08,"lat":51.6},{"row":"c","season":"FALL","level":-20,"lon":27.27,"lat":52.78},{"row":"c","season":"FALL","level":-20,"lon":25.27,"lat":54.5},
      {"row":"c","season":"FALL","level":-10,"lon":39.6,"lat":49.76},{"row":"c","season":"FALL","level":-10,"lon":35.29,"lat":49.42},{"row":"c","season":"FALL","level":-10,"lon":31.28,"lat":49.63},{"row":"c","season":"FALL","level":-10,"lon":27.27,"lat":50.42},{"row":"c","season":"FALL","level":-10,"lon":24.07,"lat":51.73},{"row":"c","season":"FALL","level":-10,"lon":21.26,"lat":53.04},
      {"row":"c","season":"FALL","level":0,"lon":39.6,"lat":48.63},{"row":"c","season":"FALL","level":0,"lon":37.29,"lat":48.57},{"row":"c","season":"FALL","level":0,"lon":34.09,"lat":48.1},{"row":"c","season":"FALL","level":0,"lon":31.88,"lat":47.84},{"row":"c","season":"FALL","level":0,"lon":30.08,"lat":47.92},{"row":"c","season":"FALL","level":0,"lon":26.07,"lat":48.18},{"row":"c","season":"FALL","level":0,"lon":23.27,"lat":48.44},{"row":"c","season":"FALL","level":0,"lon":20.9,"lat":48.84},
      {"row":"c","season":"FALL","level":10,"lon":39.6,"lat":47.31},{"row":"c","season":"FALL","level":10,"lon":38.1,"lat":47.26},{"row":"c","season":"FALL","level":10,"lon":35.29,"lat":46.47},{"row":"c","season":"FALL","level":10,"lon":32.89,"lat":45.81},{"row":"c","season":"FALL","level":10,"lon":28.08,"lat":45.68},{"row":"c","season":"FALL","level":10,"lon":25.27,"lat":45.03},{"row":"c","season":"FALL","level":10,"lon":20.9,"lat":43.84},
      {"row":"c","season":"FALL","level":20,"lon":39.6,"lat":45.29},{"row":"c","season":"FALL","level":20,"lon":38.1,"lat":44.89},{"row":"c","season":"FALL","level":20,"lon":36.89,"lat":43.58},{"row":"c","season":"FALL","level":20,"lon":35.49,"lat":42.4},{"row":"c","season":"FALL","level":20,"lon":33.89,"lat":41.9},{"row":"c","season":"FALL","level":20,"lon":32.08,"lat":42.0},{"row":"c","season":"FALL","level":20,"lon":30.08,"lat":41.48},{"row":"c","season":"FALL","level":20,"lon":28.48,"lat":40.69},{"row":"c","season":"FALL","level":20,"lon":27.88,"lat":40.45},

      {"row":"c","season":"ANNUM","level":-30,"lon":39.6,"lat":52.41},{"row":"c","season":"ANNUM","level":-30,"lon":36.26,"lat":52.52},{"row":"c","season":"ANNUM","level":-30,"lon":34.28,"lat":52.98},{"row":"c","season":"ANNUM","level":-30,"lon":32.69,"lat":53.9},{"row":"c","season":"ANNUM","level":-30,"lon":31.9,"lat":54.5},
      {"row":"c","season":"ANNUM","level":-20,"lon":39.6,"lat":50.69},{"row":"c","season":"ANNUM","level":-20,"lon":36.66,"lat":50.77},{"row":"c","season":"ANNUM","level":-20,"lon":33.69,"lat":50.85},{"row":"c","season":"ANNUM","level":-20,"lon":31.9,"lat":51.03},{"row":"c","season":"ANNUM","level":-20,"lon":29.92,"lat":51.68},{"row":"c","season":"ANNUM","level":-20,"lon":27.55,"lat":52.72},{"row":"c","season":"ANNUM","level":-20,"lon":25.57,"lat":54.03},{"row":"c","season":"ANNUM","level":-20,"lon":24.97,"lat":54.5},
      {"row":"c","season":"ANNUM","level":-10,"lon":39.63,"lat":49.21},{"row":"c","season":"ANNUM","level":-10,"lon":36.26,"lat":49.34},{"row":"c","season":"ANNUM","level":-10,"lon":33.49,"lat":49.6},{"row":"c","season":"ANNUM","level":-10,"lon":30.32,"lat":50.25},{"row":"c","season":"ANNUM","level":-10,"lon":27.15,"lat":50.9},{"row":"c","season":"ANNUM","level":-10,"lon":23.98,"lat":51.68},{"row":"c","season":"ANNUM","level":-10,"lon":21.02,"lat":53.25},
      {"row":"c","season":"ANNUM","level":0,"lon":39.63,"lat":47.64},{"row":"c","season":"ANNUM","level":0,"lon":37.84,"lat":47.9},{"row":"c","season":"ANNUM","level":0,"lon":33.49,"lat":47.83},{"row":"c","season":"ANNUM","level":0,"lon":31.82,"lat":47.77},{"row":"c","season":"ANNUM","level":0,"lon":30.32,"lat":48.03},{"row":"c","season":"ANNUM","level":0,"lon":27.15,"lat":48.29},{"row":"c","season":"ANNUM","level":0,"lon":23.98,"lat":48.69},{"row":"c","season":"ANNUM","level":0,"lon":21.02,"lat":49.86},
      {"row":"c","season":"ANNUM","level":10,"lon":39.63,"lat":45.9},{"row":"c","season":"ANNUM","level":10,"lon":37.45,"lat":46.21},{"row":"c","season":"ANNUM","level":10,"lon":35.07,"lat":45.95},{"row":"c","season":"ANNUM","level":10,"lon":32.3,"lat":45.74},{"row":"c","season":"ANNUM","level":10,"lon":29.13,"lat":45.9},{"row":"c","season":"ANNUM","level":10,"lon":25.57,"lat":46.0},{"row":"c","season":"ANNUM","level":10,"lon":21.02,"lat":45.82},
      {"row":"c","season":"ANNUM","level":20,"lon":39.63,"lat":43.86},{"row":"c","season":"ANNUM","level":20,"lon":37.45,"lat":43.34},{"row":"c","season":"ANNUM","level":20,"lon":35.07,"lat":42.56},{"row":"c","season":"ANNUM","level":20,"lon":33.49,"lat":42.04},{"row":"c","season":"ANNUM","level":20,"lon":32.3,"lat":41.65},{"row":"c","season":"ANNUM","level":20,"lon":30.72,"lat":41.65},{"row":"c","season":"ANNUM","level":20,"lon":29.13,"lat":41.26},{"row":"c","season":"ANNUM","level":20,"lon":27.74,"lat":40.53},

      {"row":"a","season":"WINTER","label":"27.2","lon":28.2,"lat":52.16},{"row":"a","season":"WINTER","label":"27","lon":28.9,"lat":47.74},{"row":"a","season":"WINTER","label":"26.8","lon":27.5,"lat":42.7},
      {"row":"a","season":"SPRING","label":"27.2","lon":28.0,"lat":51.32},{"row":"a","season":"SPRING","label":"27","lon":28.6,"lat":48.3},{"row":"a","season":"SPRING","label":"26.8","lon":36.08,"lat":42.9},
      {"row":"a","season":"SUMMER","label":"27.2","lon":32.7,"lat":51.4},{"row":"a","season":"SUMMER","label":"27","lon":28.77,"lat":49.9},{"row":"a","season":"SUMMER","label":"26.8","lon":30.16,"lat":44.06},
      {"row":"a","season":"FALL","label":"27","lon":28.62,"lat":51.32},{"row":"a","season":"FALL","label":"26.8","lon":23.34,"lat":46.44},{"row":"a","season":"FALL","label":"26.6","lon":34.7,"lat":43.6},
      {"row":"a","season":"ANNUM","label":"27.2","lon":31.55,"lat":51.94},{"row":"a","season":"ANNUM","label":"27","lon":29.0,"lat":49.55},{"row":"a","season":"ANNUM","label":"26.8","lon":28.42,"lat":44.2},
      {"row":"b","season":"WINTER","label":"-40","lon":32.3,"lat":53.71},{"row":"b","season":"WINTER","label":"-20","lon":31.8,"lat":50.3},{"row":"b","season":"WINTER","label":"0","lon":31.71,"lat":46.68},{"row":"b","season":"WINTER","label":"20","lon":31.91,"lat":44.4},
      {"row":"b","season":"SPRING","label":"-40","lon":32.18,"lat":53.51},{"row":"b","season":"SPRING","label":"-20","lon":31.59,"lat":49.75},{"row":"b","season":"SPRING","label":"0","lon":31.79,"lat":46.51},{"row":"b","season":"SPRING","label":"20","lon":31.79,"lat":44.18},
      {"row":"b","season":"SUMMER","label":"-40","lon":32.3,"lat":54.25},{"row":"b","season":"SUMMER","label":"-20","lon":32.13,"lat":50.59},{"row":"b","season":"SUMMER","label":"0","lon":31.94,"lat":47.15},{"row":"b","season":"SUMMER","label":"20","lon":31.82,"lat":44.8},{"row":"b","season":"SUMMER","label":"40","lon":32.13,"lat":40.6},
      {"row":"b","season":"FALL","label":"-20","lon":32.35,"lat":51.23},{"row":"b","season":"FALL","label":"0","lon":32.27,"lat":47.66},{"row":"b","season":"FALL","label":"20","lon":32.03,"lat":44.93},{"row":"b","season":"FALL","label":"40","lon":31.55,"lat":40.96},
      {"row":"b","season":"ANNUM","label":"-40","lon":32.42,"lat":53.89},{"row":"b","season":"ANNUM","label":"-20","lon":32.03,"lat":50.48},{"row":"b","season":"ANNUM","label":"0","lon":31.91,"lat":47.03},{"row":"b","season":"ANNUM","label":"20","lon":31.83,"lat":44.6},
      {"row":"c","season":"WINTER","label":"-20","lon":31.98,"lat":51.16},{"row":"c","season":"WINTER","label":"0","lon":31.78,"lat":48.67},{"row":"c","season":"WINTER","label":"20","lon":31.98,"lat":41.05},
      {"row":"c","season":"SPRING","label":"-20","lon":31.67,"lat":51.2},{"row":"c","season":"SPRING","label":"0","lon":31.87,"lat":47.84},{"row":"c","season":"SPRING","label":"20","lon":31.67,"lat":42.05},
      {"row":"c","season":"SUMMER","label":"-20","lon":31.98,"lat":51.26},{"row":"c","season":"SUMMER","label":"0","lon":31.78,"lat":47.84},{"row":"c","season":"SUMMER","label":"20","lon":32.26,"lat":41.84},
      {"row":"c","season":"FALL","label":"-20","lon":31.88,"lat":50.94},{"row":"c","season":"FALL","label":"0","lon":31.88,"lat":47.84},{"row":"c","season":"FALL","label":"20","lon":33.89,"lat":41.9},
      {"row":"c","season":"ANNUM","label":"-20","lon":31.9,"lat":51.03},{"row":"c","season":"ANNUM","label":"0","lon":31.82,"lat":47.77},{"row":"c","season":"ANNUM","label":"20","lon":32.3,"lat":41.65}
    ]
  },
  "data": {"name": "fields"},
  "facet": {
    "row": {
      "field": "row", "type": "nominal",
      "header": {"title": null, "labelOrient": "right", "labelAngle": 0, "labelFont": "Liberation Sans", "labelFontSize": 32, "labelColor": "#111", "labelPadding": 12, "labelAlign": "left", "labelBaseline": "middle"}
    },
    "column": {
      "field": "season", "type": "nominal",
      "sort": ["WINTER", "SPRING", "SUMMER", "FALL", "ANNUM"],
      "header": {"title": null, "labelOrient": "top", "labelFont": "Liberation Sans", "labelFontSize": 22, "labelFontWeight": "bold", "labelColor": "#111", "labelPadding": 31}
    }
  },
  "spacing": {"row": 88, "column": 47},
  "bounds": "flush",
  "resolve": {"axis": {"x": "independent", "y": "independent"}},
  "spec": {
    "width": 170,
    "height": 196,
    "resolve": {"axis": {"x": "independent", "y": "independent"}},
    "layer": [
      {
        "transform": [{"filter": "(datum.row == 'b' || datum.row == 'c') && datum.level == -10"}],
        "mark": {"type": "area", "fill": "#e4e4e4", "strokeWidth": 0},
        "encoding": {
          "x": {"field": "lon", "type": "quantitative", "scale": {"domain": [20.1, 40.3], "reverse": true, "nice": false, "zero": false}, "axis": null},
          "y": {"field": "lat", "type": "quantitative", "scale": {"domain": [39.9, 55.2], "nice": false, "zero": false}, "axis": null},
          "y2": {"datum": 54.5}
        }
      },
      {
        "transform": [{"filter": "datum.row == 'a' && datum.level == 27.2"}],
        "mark": {"type": "area", "strokeWidth": 0, "fill": {"gradient": "linear", "x1": 0, "y1": 0, "x2": 1, "y2": 0, "stops": [{"offset": 0, "color": "#bdbdbd"}, {"offset": 0.5, "color": "#cdcdcd"}, {"offset": 0.68, "color": "#e8e8e8"}, {"offset": 0.78, "color": "#ffffff"}]}},
        "encoding": {
          "x": {"field": "lon", "type": "quantitative", "axis": null},
          "y": {"field": "lat", "type": "quantitative", "axis": null},
          "y2": {"datum": 54.5}
        }
      },
      {
        "transform": [{"filter": "datum.row == 'a' && datum.level == 27.3"}],
        "mark": {"type": "area", "strokeWidth": 0, "fill": {"gradient": "linear", "x1": 0, "y1": 0, "x2": 1, "y2": 0, "stops": [{"offset": 0, "color": "#646464"}, {"offset": 0.6, "color": "#7e7e7e"}, {"offset": 1, "color": "#a8a8a8"}]}},
        "encoding": {
          "x": {"field": "lon", "type": "quantitative", "axis": null},
          "y": {"field": "lat", "type": "quantitative", "axis": null},
          "y2": {"datum": 54.5}
        }
      },
      {
        "transform": [{"filter": "(datum.row == 'b' || datum.row == 'c') && datum.level == -20"}],
        "mark": {"type": "area", "strokeWidth": 0, "fill": {"gradient": "radial", "x1": 0, "y1": 0, "r1": 0, "x2": 0, "y2": 0, "r2": 1.25, "stops": [{"offset": 0, "color": "#1c1c1c"}, {"offset": 0.5, "color": "#383838"}, {"offset": 0.78, "color": "#626262"}, {"offset": 1, "color": "#a4a4a4"}]}},
        "encoding": {
          "x": {"field": "lon", "type": "quantitative", "axis": null},
          "y": {"field": "lat", "type": "quantitative", "axis": null},
          "y2": {"datum": 54.5}
        }
      },
      {
        "transform": [{"filter": "datum.row == 'b' && datum.level == -40"}],
        "mark": {"type": "area", "fill": "#0a0a0a", "strokeWidth": 0},
        "encoding": {
          "x": {"field": "lon", "type": "quantitative", "axis": null},
          "y": {"field": "lat", "type": "quantitative", "axis": null},
          "y2": {"datum": 54.5}
        }
      },
      {
        "transform": [{"filter": "isValid(datum.level)"}],
        "mark": {"type": "line", "color": "#000", "strokeWidth": 2.3, "strokeCap": "round", "strokeJoin": "round", "interpolate": "monotone"},
        "encoding": {
          "x": {
            "field": "lon", "type": "quantitative", "title": null,
            "axis": {"orient": "bottom", "labelPadding": 5, "values": [21, 22.5, 24, 25.5, 27, 28.5, 30, 31.5, 33, 34.5, 36, 37.5, 39], "labelExpr": "datum.value % 6 == 0 ? '' + datum.value : ''", "tickSize": {"condition": {"test": "datum.value % 6 == 0", "value": 7}, "value": 4}}
          },
          "y": {
            "field": "lat", "type": "quantitative", "title": null,
            "axis": {"orient": "left", "values": [40, 41, 42, 43, 44, 45, 46, 47, 48, 49, 50, 51, 52, 53, 54, 55], "labelExpr": "datum.value == 45 || datum.value == 50 ? '' + datum.value : ''", "tickSize": {"condition": {"test": "datum.value % 5 == 0", "value": 7}, "value": 4}}
          },
          "detail": {"field": "level", "type": "nominal"}
        }
      },
      {
        "transform": [{"filter": "isValid(datum.label)"}],
        "mark": {"type": "text", "font": "Liberation Sans", "fontSize": 17, "fontWeight": "bold", "color": "white", "stroke": "white", "strokeWidth": 8, "strokeJoin": "miter", "align": "center", "baseline": "middle"},
        "encoding": {
          "x": {
            "field": "lon", "type": "quantitative", "title": null,
            "axis": {"orient": "top", "labels": false, "values": [21, 22.5, 24, 25.5, 27, 28.5, 30, 31.5, 33, 34.5, 36, 37.5, 39], "tickSize": {"condition": {"test": "datum.value % 6 == 0", "value": 7}, "value": 4}}
          },
          "y": {
            "field": "lat", "type": "quantitative", "title": null,
            "axis": {"orient": "right", "labels": false, "values": [40, 41, 42, 43, 44, 45, 46, 47, 48, 49, 50, 51, 52, 53, 54, 55], "tickSize": {"condition": {"test": "datum.value % 5 == 0", "value": 7}, "value": 4}}
          },
          "text": {"field": "label", "type": "nominal"}
        }
      },
      {
        "transform": [{"filter": "isValid(datum.label)"}],
        "mark": {"type": "text", "font": "Liberation Sans", "fontSize": 17, "fontWeight": "bold", "color": "#000", "align": "center", "baseline": "middle"},
        "encoding": {
          "x": {"field": "lon", "type": "quantitative", "axis": null},
          "y": {"field": "lat", "type": "quantitative", "axis": null},
          "text": {"field": "label", "type": "nominal"}
        }
      }
    ]
  },
  "config": {
    "font": "Liberation Sans",
    "view": {"stroke": "#000", "strokeWidth": 2.6},
    "axis": {"domain": false, "grid": false, "ticks": true, "tickColor": "#000", "tickWidth": 1.8, "labelFont": "Liberation Sans", "labelFontSize": 16, "labelFontWeight": "bold", "labelColor": "#111", "labelPadding": 2, "labelOverlap": false, "labelFlush": false}
  }
}
